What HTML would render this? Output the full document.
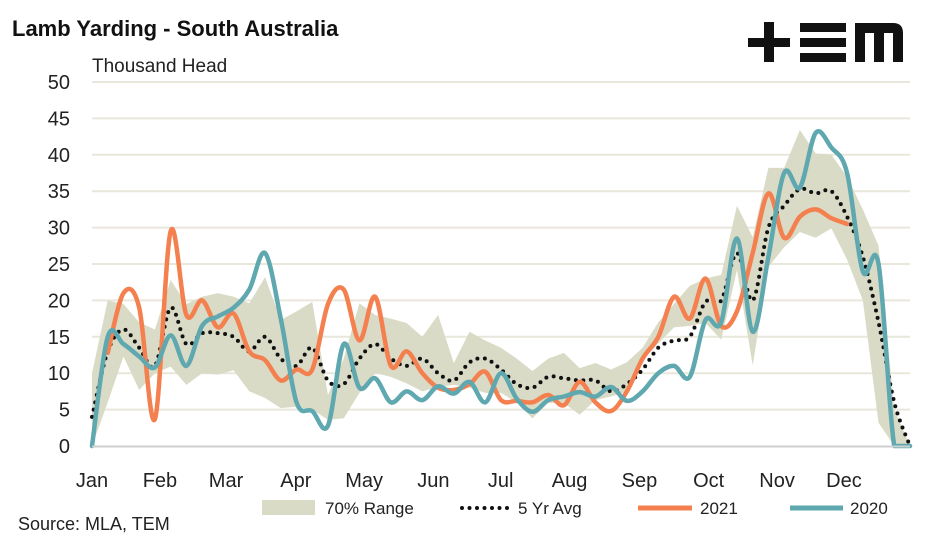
<!DOCTYPE html>
<html><head><meta charset="utf-8"><style>
body{margin:0;background:#fff;width:947px;height:541px;overflow:hidden;font-family:"Liberation Sans",sans-serif}
</style></head><body>
<svg width="947" height="541" viewBox="0 0 947 541" font-family="Liberation Sans, sans-serif">
<text x="12" y="36" font-size="22" font-weight="bold" fill="#111">Lamb Yarding - South Australia</text>
<text x="92" y="72" font-size="19" fill="#222">Thousand Head</text>
<g fill="#111">
<rect x="748" y="38" width="42" height="9"/><rect x="764" y="22" width="10" height="40"/>
<rect x="800" y="23" width="46" height="9"/><rect x="800" y="38" width="46" height="9"/><rect x="800" y="53" width="46" height="9"/>
<path d="M855 23 H893 Q903 23 903 33 V62 H893 V33 H884 V62 H874 V33 H865 V62 H855 Z"/>
</g>
<g id="grid"></g><g id="yt"></g><g id="xt"></g>
<path id="band" fill="#dadbc6"/>
<path id="avg" fill="none" stroke="#111" stroke-width="4" stroke-linecap="round" stroke-dasharray="0 7.5"/>
<path id="s21" fill="none" stroke="#f4804f" stroke-width="4.5" stroke-linejoin="round" stroke-linecap="round"/>
<path id="s20" fill="none" stroke="#5fa8b0" stroke-width="4.5" stroke-linejoin="round" stroke-linecap="round"/>
<line x1="92" y1="446.5" x2="910" y2="446.5" stroke="#cfcfcf" stroke-width="2"/>
<g font-size="17" fill="#222">
<rect x="262" y="500" width="53" height="15" fill="#dadbc6"/>
<text x="325" y="514">70% Range</text>
<line x1="462" y1="508" x2="510" y2="508" stroke="#111" stroke-width="4" stroke-linecap="round" stroke-dasharray="0 7.5"/>
<text x="518" y="514">5 Yr Avg</text>
<line x1="638" y1="508" x2="692" y2="508" stroke="#f4804f" stroke-width="5"/>
<text x="700" y="514">2021</text>
<line x1="790" y1="508" x2="843" y2="508" stroke="#5fa8b0" stroke-width="5"/>
<text x="850" y="514">2020</text>
</g>
<text x="18" y="530" font-size="18" fill="#222">Source: MLA, TEM</text>
</svg>
<script>
const months=["Jan","Feb","Mar","Apr","May","Jun","Jul","Aug","Sep","Oct","Nov","Dec"];
const monthPos=[0,4.32,8.52,12.96,17.3,21.7,25.98,30.36,34.8,39.2,43.55,47.8];
const yTicks=[0,5,10,15,20,25,30,35,40,45,50];
const upper=[10,20,19.5,17,16,22.8,19.5,20.5,21,20.5,19.6,23.2,17.3,18.5,19.8,7,12,19.6,18,17.5,16.9,15,18,11.4,15.7,14.5,13.5,12,10.3,12,12.8,10.7,11.4,10.5,11.5,13.5,17,19.5,22,23,23.5,33,28.7,38.2,38.2,43.4,40.2,40,37,32.5,27.5,5,0];
const lower=[0,6,12.3,7.7,10,10.9,8.4,10,9.8,10.4,7.5,6.6,5.2,5.4,5,3.6,3.8,7.3,10,9.5,8.6,7.5,8.1,8.4,8,7.3,7.3,6,3.8,5.9,5.9,4.3,6.3,6.8,7.5,11.8,14.1,16.3,16.5,16.9,14.6,24.2,11.1,24.6,27.3,29.4,28.6,29.9,25.6,20,3.2,0,0];
const avg5=[4,13,16,13.5,11,19,14,15.5,15.5,15,13,15,12,11,13.5,9,8.5,12,14,12,11,12,10,9,11.5,12,10.5,8.5,8,9.5,9.3,9,9,7.5,8.5,10.5,13.5,14.5,15,19.8,20,26.5,20,30,33,35.3,34.7,35,31.5,26,17,6,0];
const y2021=[null,12.8,21,19,3.7,29.5,18,20,16.3,18.2,13,11.8,9,10.5,10.5,19.5,21.5,14.5,20.5,11,13,10,8,7.7,8.5,10.2,6.3,6.2,6,7,5.6,8.8,6,4.8,7.5,12,15,20.5,17.5,23,16.5,18.5,26.5,34.7,28.6,31.5,32.5,31.3,30.5];
const y2020=[0,15,14,12.3,10.8,15.2,11,16.5,17.8,19,21.5,26.5,17.5,6,4.8,2.8,14,8,9.3,6,7.5,6.3,8.2,7.2,8.8,6,10,6.5,4.7,6.3,6.8,7.4,6.8,8.1,6.2,7.5,10,11,9.5,17.3,17,28.5,15.7,26,37.5,35.5,43,41,37.5,24,25,0,0];
const X0=92,X1=910,Y0=446,Y1=82;
const xs=i=>X0+i*(X1-X0)/52, ys=v=>Y0-v*(Y0-Y1)/50;
const NS="http://www.w3.org/2000/svg";
const grid=document.getElementById('grid'),yt=document.getElementById('yt'),xt=document.getElementById('xt');
yTicks.forEach(t=>{
 if(t>0){const l=document.createElementNS(NS,'line');l.setAttribute('x1',X0);l.setAttribute('x2',X1);l.setAttribute('y1',ys(t));l.setAttribute('y2',ys(t));l.setAttribute('stroke','#e9e7dc');l.setAttribute('stroke-width','2');
 
 
 grid.appendChild(l);}
 const tx=document.createElementNS(NS,'text');tx.setAttribute('x',70);tx.setAttribute('y',ys(t)+7);tx.setAttribute('text-anchor','end');tx.setAttribute('font-size','20');tx.setAttribute('fill','#222');tx.textContent=t;
 
 
 yt.appendChild(tx);
});
months.forEach((m,i)=>{
 const tx=document.createElementNS(NS,'text');tx.setAttribute('x',xs(monthPos[i]));tx.setAttribute('y',487);tx.setAttribute('text-anchor','middle');tx.setAttribute('font-size','20');tx.setAttribute('fill','#222');tx.textContent=m;
 
 
 xt.appendChild(tx);
});
const cl=y=>Math.min(Y0,y);
function smooth(arr){
 const p=[];arr.forEach((v,i)=>{if(v!==null)p.push([xs(i),ys(v)]);});
 let d=`M${p[0][0]},${p[0][1]}`;
 for(let i=0;i<p.length-1;i++){
  const a=p[i-1]||p[i],b=p[i],c=p[i+1],e=p[i+2]||c;
  d+=` C${b[0]+(c[0]-a[0])/6},${cl(b[1]+(c[1]-a[1])/6)} ${c[0]-(e[0]-b[0])/6},${cl(c[1]-(e[1]-b[1])/6)} ${c[0]},${c[1]}`;
 }
 return d;
}
let bd=upper.map((v,i)=>(i?'L':'M')+xs(i)+','+ys(v)).join(' ');
for(let i=lower.length-1;i>=0;i--)bd+=' L'+xs(i)+','+ys(lower[i]);
document.getElementById('band').setAttribute('d',bd+'Z');
document.getElementById('avg').setAttribute('d',smooth(avg5));
document.getElementById('s21').setAttribute('d',smooth(y2021));
document.getElementById('s20').setAttribute('d',smooth(y2020));
</script>
</body></html>
